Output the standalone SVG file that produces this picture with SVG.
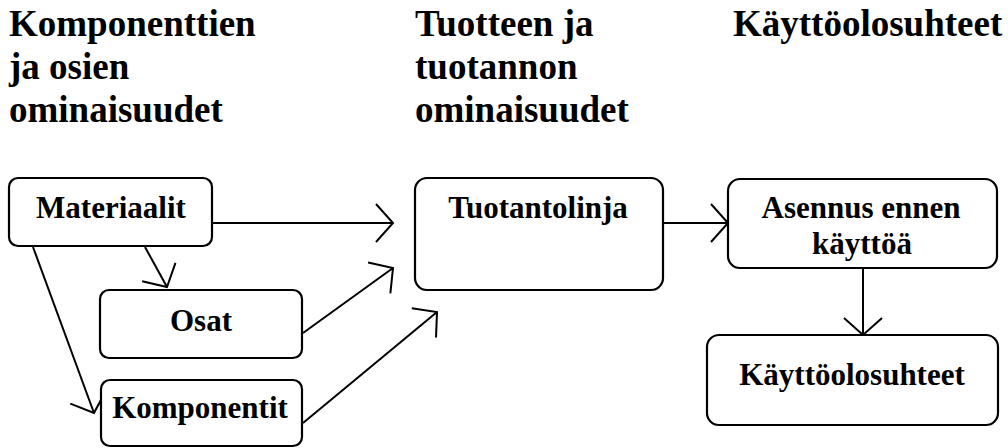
<svg xmlns="http://www.w3.org/2000/svg" width="1008" height="448" viewBox="0 0 1008 448">
<defs>
<style>
.h{font-family:"Liberation Serif","Times New Roman",serif;font-weight:bold;font-size:37px;fill:#000}
.t{font-family:"Liberation Serif","Times New Roman",serif;font-weight:bold;font-size:31px;fill:#000;text-anchor:middle}
.box{fill:#fff;stroke:#000;stroke-width:2.2}
.c{fill:none;stroke:#000;stroke-width:2}
</style>
<marker id="arr" markerUnits="userSpaceOnUse" viewBox="-20 -22 24 44" refX="0" refY="0" markerWidth="24" markerHeight="44" orient="auto" overflow="visible">
<path d="M-17,-19 L0,0 L-17,19" fill="none" stroke="#000" stroke-width="2"/>
</marker>
</defs>
<rect width="1008" height="448" fill="#fff"/>
<g id="headings">
<text class="h" x="9" y="36">Komponenttien</text>
<text class="h" x="9" y="79">ja osien</text>
<text class="h" x="9" y="122">ominaisuudet</text>
<text class="h" x="415" y="36">Tuotteen ja</text>
<text class="h" x="415" y="79">tuotannon</text>
<text class="h" x="415" y="122">ominaisuudet</text>
<text class="h" x="733" y="36">Käyttöolosuhteet</text>
</g>
<g id="connectors">
<line class="c" x1="212" y1="223" x2="393" y2="223" marker-end="url(#arr)"/>
<line class="c" x1="145" y1="247" x2="167" y2="287" marker-end="url(#arr)"/>
<line class="c" x1="33" y1="247" x2="94" y2="413" marker-end="url(#arr)"/>
<line class="c" x1="303" y1="333" x2="393" y2="268" marker-end="url(#arr)"/>
<line class="c" x1="303" y1="423" x2="437" y2="312" marker-end="url(#arr)"/>
<line class="c" x1="663" y1="223" x2="728" y2="223" marker-end="url(#arr)"/>
<line class="c" x1="863" y1="268" x2="863" y2="335" marker-end="url(#arr)"/>
</g>
<g id="materiaalit">
<rect class="box" x="9" y="178" width="203" height="68" rx="9"/>
<text class="t" x="111" y="218">Materiaalit</text>
</g>
<g id="osat">
<rect class="box" x="100" y="290" width="202" height="68" rx="9"/>
<text class="t" x="201" y="331">Osat</text>
</g>
<g id="komponentit">
<rect class="box" x="101" y="380" width="201" height="66" rx="9"/>
<text class="t" x="200" y="418">Komponentit</text>
</g>
<g id="tuotantolinja">
<rect class="box" x="415" y="178" width="248" height="112" rx="12"/>
<text class="t" x="538" y="218">Tuotantolinja</text>
</g>
<g id="asennus">
<rect class="box" x="728" y="179" width="269" height="89" rx="12"/>
<text class="t" x="861" y="218">Asennus ennen</text>
<text class="t" x="862" y="254">käyttöä</text>
</g>
<g id="kayttoolosuhteet">
<rect class="box" x="707" y="335" width="291" height="90" rx="12"/>
<text class="t" x="852" y="385">Käyttöolosuhteet</text>
</g>
</svg>
